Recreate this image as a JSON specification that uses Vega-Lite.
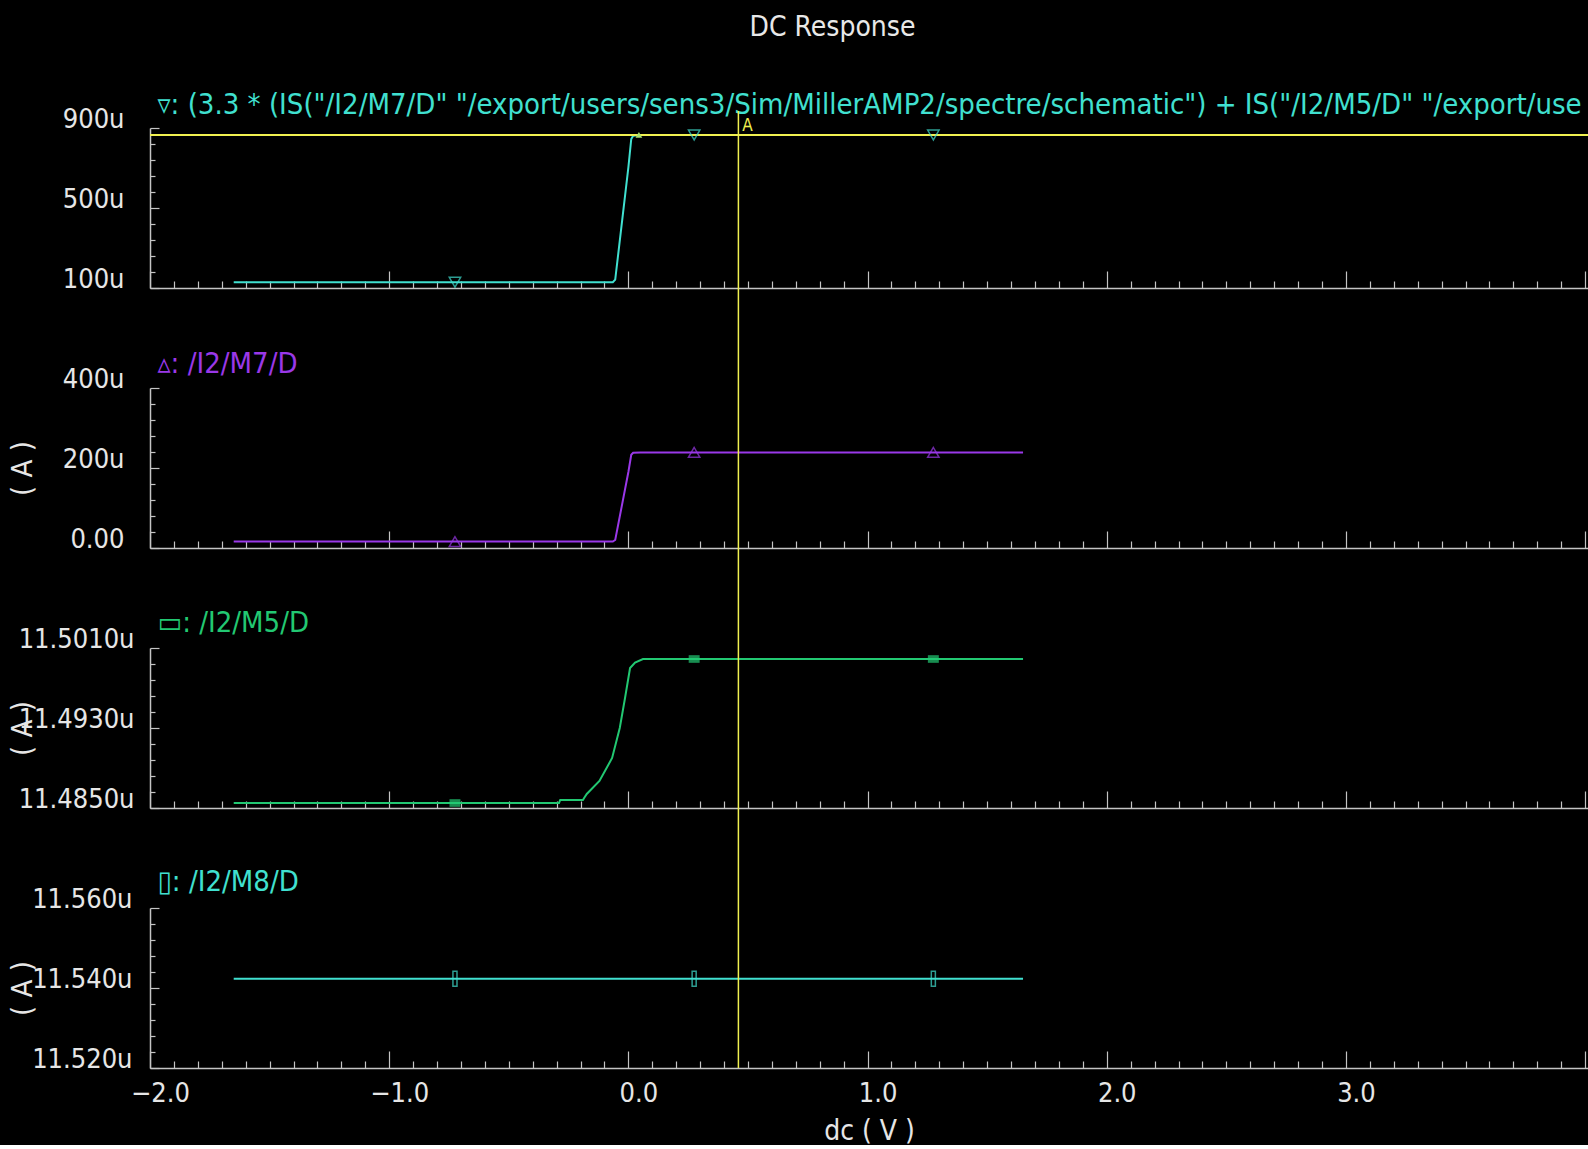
{
  "$schema": "https://vega.github.io/schema/vega-lite/v6.json",
  "background": "black",
  "padding": {"left": 8, "top": 13, "right": 0, "bottom": 0},
  "autosize": {"type": "pad"},
  "spacing": 100,
  "bounds": "flush",
  "config": {
    "view": {"stroke": null, "fill": "black"},
    "font": "DejaVu Sans Condensed, DejaVu Sans, sans-serif",
    "axis": {"grid": false, "domainColor": "#c4c4c4", "domainWidth": 1.5, "tickColor": "#c4c4c4", "tickWidth": 1.2, "labelColor": "#e6e6e6", "titleColor": "#e6e6e6", "labelFont": "DejaVu Sans Condensed, DejaVu Sans, sans-serif", "titleFont": "DejaVu Sans Condensed, DejaVu Sans, sans-serif", "labelFontSize": 27, "titleFontSize": 28, "titleFontWeight": "normal", "labelOverlap": false, "labelFlush": false}
  },
  "datasets": {
    "sum": [
      {"dc": -1.65, "i": 128.8}, {"dc": -0.065, "i": 128.8}, {"dc": -0.055, "i": 142.0}, {"dc": 0.0, "i": 703.0}, {"dc": 0.012, "i": 844.9}, {"dc": 0.02, "i": 861.4}, {"dc": 0.05, "i": 864.7}, {"dc": 1.65, "i": 864.7}
    ],
    "sumMk": [{"dc": -0.725, "i": 128.8}, {"dc": 0.275, "i": 864.7}, {"dc": 1.275, "i": 864.7}],
    "hline": [{"i": 865.5}],
    "yMk": [{"dc": 0.044, "i": 866}],
    "vc1": [{"dc": 0.46, "top": 985, "bot": -400}],
    "aLabel": [{"dc": 0.46, "i": 912, "t": "A"}],
    "m7": [
      {"dc": -1.65, "i": 16}, {"dc": -0.065, "i": 16}, {"dc": -0.055, "i": 20}, {"dc": 0.0, "i": 190}, {"dc": 0.012, "i": 233}, {"dc": 0.02, "i": 238}, {"dc": 0.05, "i": 239}, {"dc": 1.65, "i": 239}
    ],
    "m7Mk": [{"dc": -0.725, "i": 16}, {"dc": 0.275, "i": 239}, {"dc": 1.275, "i": 239}],
    "vc2": [{"dc": 0.46, "top": 400, "bot": -250}],
    "m5": [
      {"dc": -1.65, "i": 11.4855}, {"dc": -0.29, "i": 11.4855}, {"dc": -0.285, "i": 11.4858}, {"dc": -0.19, "i": 11.4858}, {"dc": -0.185, "i": 11.4860}, {"dc": -0.174, "i": 11.4864}, {"dc": -0.121, "i": 11.4877}, {"dc": -0.068, "i": 11.4900}, {"dc": -0.036, "i": 11.4930}, {"dc": -0.014, "i": 11.4960}, {"dc": 0.007, "i": 11.4990}, {"dc": 0.028, "i": 11.49955}, {"dc": 0.061, "i": 11.4999}, {"dc": 1.65, "i": 11.4999}
    ],
    "m5Mk": [{"dc": -0.725, "i": 11.4855}, {"dc": 0.275, "i": 11.4999}, {"dc": 1.275, "i": 11.4999}],
    "vc3": [{"dc": 0.46, "top": 11.501, "bot": 11.475}],
    "m8": [{"dc": -1.65, "i": 11.5423}, {"dc": 1.65, "i": 11.5423}],
    "m8Mk": [{"dc": -0.725, "i": 11.5423}, {"dc": 0.275, "i": 11.5423}, {"dc": 1.275, "i": 11.5423}],
    "vc4": [{"dc": 0.46, "top": 11.56, "bot": 11.52}]
  },
  "vconcat": [
    {
      "width": 1438, "height": 160,
      "resolve": {"axis": {"x": "independent", "y": "independent"}},
      "layer": [
        {"data": {"name": "sum"}, "mark": {"type": "line", "color": "#40e0d0", "strokeWidth": 2},
         "encoding": {
           "x": {"field": "dc", "type": "quantitative", "scale": {"domain": [-2, 4.012], "nice": false, "zero": false},
                 "axis": {"title": null, "labels": false, "values": [-2,-1.9,-1.8,-1.7,-1.6,-1.5,-1.4,-1.3,-1.2,-1.1,-1,-0.9,-0.8,-0.7,-0.6,-0.5,-0.4,-0.3,-0.2,-0.1,0,0.1,0.2,0.3,0.4,0.5,0.6,0.7,0.8,0.9,1,1.1,1.2,1.3,1.4,1.5,1.6,1.7,1.8,1.9,2,2.1,2.2,2.3,2.4,2.5,2.6,2.7,2.8,2.9,3,3.1,3.2,3.3,3.4,3.5,3.6,3.7,3.8,3.9,4],
                          "tickSize": {"condition": {"test": "abs(datum.value-round(datum.value))<0.001", "value": -17}, "value": -7}}},
           "y": {"field": "i", "type": "quantitative", "scale": {"domain": [100, 900], "nice": false, "zero": false},
                 "axis": {"title": null, "values": [100,180,260,340,420,500,580,660,740,820,900], "labelOverlap": false,
                          "tickSize": {"condition": {"test": "datum.value==100||datum.value==500||datum.value==900", "value": -9}, "value": -5},
                          "labelExpr": "(datum.value==100||datum.value==500||datum.value==900) ? datum.value+'u' : ''",
                          "labelBaseline": "alphabetic", "labelPadding": 35, "labelOffset": -1}}
         }},
        {"data": {"name": "hline"}, "mark": {"type": "rule", "color": "#f0f050", "strokeWidth": 2},
         "encoding": {"y": {"field": "i", "type": "quantitative", "scale": {"domain": [100, 900], "nice": false, "zero": false},
                            "axis": {"orient": "right", "domain": false, "ticks": false, "labels": false, "title": "DC Response", "titleX": -756, "titleY": -101, "titleAngle": 0, "titleAlign": "center", "titleBaseline": "middle", "titleColor": "#e8e8e8", "titleFontSize": 28}}}},
        {"data": {"name": "sumMk"}, "mark": {"type": "point", "shape": "triangle-down", "filled": false, "size": 130, "color": "#40e0d0", "strokeWidth": 1.5},
         "encoding": {"x": {"field": "dc", "type": "quantitative", "scale": {"domain": [-2, 4.012], "nice": false, "zero": false},
                            "axis": {"orient": "top", "domain": false, "ticks": false, "labels": false, "title": "▿:  (3.3 * (IS(\"/I2/M7/D\" \"/export/users/sens3/Sim/MillerAMP2/spectre/schematic\") + IS(\"/I2/M5/D\" \"/export/use", "titleX": 7, "titleY": -24, "titleAngle": 0, "titleAlign": "left", "titleBaseline": "middle", "titleColor": "#40e0d0", "titleFontSize": 29}},
                      "y": {"field": "i", "type": "quantitative", "scale": {"domain": [100, 900], "nice": false, "zero": false}, "axis": null}}},
        {"data": {"name": "yMk"}, "mark": {"type": "point", "shape": "triangle-up", "filled": true, "size": 45, "color": "#a8e070", "opacity": 1},
         "encoding": {"x": {"field": "dc", "type": "quantitative", "scale": {"domain": [-2, 4.012], "nice": false, "zero": false}, "axis": null}, "y": {"field": "i", "type": "quantitative", "scale": {"domain": [100, 900], "nice": false, "zero": false}, "axis": null}}},
        {"data": {"name": "vc1"}, "mark": {"type": "rule", "color": "#f0f050", "strokeWidth": 1.5},
         "encoding": {"x": {"field": "dc", "type": "quantitative", "scale": {"domain": [-2, 4.012], "nice": false, "zero": false}, "axis": null}, "y": {"field": "top", "type": "quantitative", "scale": {"domain": [100, 900], "nice": false, "zero": false}, "axis": null}, "y2": {"field": "bot"}}},
        {"data": {"name": "aLabel"}, "mark": {"type": "text", "color": "#f0f050", "fontSize": 17, "dx": 9, "font": "DejaVu Sans Condensed, DejaVu Sans, sans-serif"},
         "encoding": {"x": {"field": "dc", "type": "quantitative", "scale": {"domain": [-2, 4.012], "nice": false, "zero": false}, "axis": null}, "y": {"field": "i", "type": "quantitative", "scale": {"domain": [100, 900], "nice": false, "zero": false}, "axis": null}, "text": {"field": "t"}}}
      ]
    },
    {
      "width": 1438, "height": 160,
      "resolve": {"axis": {"x": "independent", "y": "independent"}},
      "layer": [
        {"data": {"name": "m7"}, "mark": {"type": "line", "color": "#9a38e8", "strokeWidth": 2},
         "encoding": {
           "x": {"field": "dc", "type": "quantitative", "scale": {"domain": [-2, 4.012], "nice": false, "zero": false},
                 "axis": {"title": null, "labels": false, "values": [-2,-1.9,-1.8,-1.7,-1.6,-1.5,-1.4,-1.3,-1.2,-1.1,-1,-0.9,-0.8,-0.7,-0.6,-0.5,-0.4,-0.3,-0.2,-0.1,0,0.1,0.2,0.3,0.4,0.5,0.6,0.7,0.8,0.9,1,1.1,1.2,1.3,1.4,1.5,1.6,1.7,1.8,1.9,2,2.1,2.2,2.3,2.4,2.5,2.6,2.7,2.8,2.9,3,3.1,3.2,3.3,3.4,3.5,3.6,3.7,3.8,3.9,4],
                          "tickSize": {"condition": {"test": "abs(datum.value-round(datum.value))<0.001", "value": -17}, "value": -7}}},
           "y": {"field": "i", "type": "quantitative", "scale": {"domain": [0, 400], "nice": false, "zero": false},
                 "axis": {"title": "( A )", "titleX": -128, "titleY": 80, "titleAngle": -90, "titleBaseline": "middle", "titleAlign": "center", "titleFontSize": 29,
                          "values": [0,40,80,120,160,200,240,280,320,360,400], "labelOverlap": false,
                          "tickSize": {"condition": {"test": "datum.value==0||datum.value==200||datum.value==400", "value": -9}, "value": -5},
                          "labelExpr": "datum.value==0 ? '0.00' : ((datum.value==200||datum.value==400) ? datum.value+'u' : '')",
                          "labelBaseline": "alphabetic", "labelPadding": 35, "labelOffset": -1}}
         }},
        {"data": {"name": "m7Mk"}, "mark": {"type": "point", "shape": "triangle-up", "filled": false, "size": 130, "color": "#9a38e8", "strokeWidth": 1.5},
         "encoding": {"x": {"field": "dc", "type": "quantitative", "scale": {"domain": [-2, 4.012], "nice": false, "zero": false},
                            "axis": {"orient": "top", "domain": false, "ticks": false, "labels": false, "title": "▵:  /I2/M7/D", "titleX": 7, "titleY": -25, "titleAngle": 0, "titleAlign": "left", "titleBaseline": "middle", "titleColor": "#9a38e8", "titleFontSize": 29}},
                      "y": {"field": "i", "type": "quantitative", "scale": {"domain": [0, 400], "nice": false, "zero": false}, "axis": null}}},
        {"data": {"name": "vc2"}, "mark": {"type": "rule", "color": "#f0f050", "strokeWidth": 1.5},
         "encoding": {"x": {"field": "dc", "type": "quantitative", "scale": {"domain": [-2, 4.012], "nice": false, "zero": false}, "axis": null}, "y": {"field": "top", "type": "quantitative", "scale": {"domain": [0, 400], "nice": false, "zero": false}, "axis": null}, "y2": {"field": "bot"}}}
      ]
    },
    {
      "width": 1438, "height": 160,
      "resolve": {"axis": {"x": "independent", "y": "independent"}},
      "layer": [
        {"data": {"name": "m5"}, "mark": {"type": "line", "color": "#22c872", "strokeWidth": 2},
         "encoding": {
           "x": {"field": "dc", "type": "quantitative", "scale": {"domain": [-2, 4.012], "nice": false, "zero": false},
                 "axis": {"title": null, "labels": false, "values": [-2,-1.9,-1.8,-1.7,-1.6,-1.5,-1.4,-1.3,-1.2,-1.1,-1,-0.9,-0.8,-0.7,-0.6,-0.5,-0.4,-0.3,-0.2,-0.1,0,0.1,0.2,0.3,0.4,0.5,0.6,0.7,0.8,0.9,1,1.1,1.2,1.3,1.4,1.5,1.6,1.7,1.8,1.9,2,2.1,2.2,2.3,2.4,2.5,2.6,2.7,2.8,2.9,3,3.1,3.2,3.3,3.4,3.5,3.6,3.7,3.8,3.9,4],
                          "tickSize": {"condition": {"test": "abs(datum.value-round(datum.value))<0.001", "value": -17}, "value": -7}}},
           "y": {"field": "i", "type": "quantitative", "scale": {"domain": [11.485, 11.501], "nice": false, "zero": false},
                 "axis": {"title": "( A )", "titleX": -128, "titleY": 80, "titleAngle": -90, "titleBaseline": "middle", "titleAlign": "center", "titleFontSize": 29,
                          "values": [11.485,11.4866,11.4882,11.4898,11.4914,11.493,11.4946,11.4962,11.4978,11.4994,11.501], "labelOverlap": false,
                          "tickSize": {"condition": {"test": "abs(datum.value-11.485)<1e-6||abs(datum.value-11.493)<1e-6||abs(datum.value-11.501)<1e-6", "value": -9}, "value": -5},
                          "labelExpr": "(abs(datum.value-11.485)<1e-6||abs(datum.value-11.493)<1e-6||abs(datum.value-11.501)<1e-6) ? format(datum.value,'.4f')+'u' : ''",
                          "labelBaseline": "alphabetic", "labelPadding": 25, "labelOffset": -1}}
         }},
        {"data": {"name": "m5Mk"}, "mark": {"type": "point", "shape": "M-1,-0.7L1,-0.7L1,0.7L-1,0.7Z", "filled": true, "size": 120, "color": "#22c872"},
         "encoding": {"x": {"field": "dc", "type": "quantitative", "scale": {"domain": [-2, 4.012], "nice": false, "zero": false},
                            "axis": {"orient": "top", "domain": false, "ticks": false, "labels": false, "title": "▭:  /I2/M5/D", "titleX": 7, "titleY": -26, "titleAngle": 0, "titleAlign": "left", "titleBaseline": "middle", "titleColor": "#22c872", "titleFontSize": 29}},
                      "y": {"field": "i", "type": "quantitative", "scale": {"domain": [11.485, 11.501], "nice": false, "zero": false}, "axis": null}}},
        {"data": {"name": "vc3"}, "mark": {"type": "rule", "color": "#f0f050", "strokeWidth": 1.5},
         "encoding": {"x": {"field": "dc", "type": "quantitative", "scale": {"domain": [-2, 4.012], "nice": false, "zero": false}, "axis": null}, "y": {"field": "top", "type": "quantitative", "scale": {"domain": [11.485, 11.501], "nice": false, "zero": false}, "axis": null}, "y2": {"field": "bot"}}}
      ]
    },
    {
      "width": 1438, "height": 160,
      "resolve": {"axis": {"x": "independent", "y": "independent"}},
      "layer": [
        {"data": {"name": "m8"}, "mark": {"type": "line", "color": "#40e0d0", "strokeWidth": 2},
         "encoding": {
           "x": {"field": "dc", "type": "quantitative", "scale": {"domain": [-2, 4.012], "nice": false, "zero": false},
                 "axis": {"title": "dc ( V )", "titleX": 719, "titleY": 63, "titleBaseline": "middle", "titleAlign": "center", "titleFontSize": 28,
                          "values": [-2,-1.9,-1.8,-1.7,-1.6,-1.5,-1.4,-1.3,-1.2,-1.1,-1,-0.9,-0.8,-0.7,-0.6,-0.5,-0.4,-0.3,-0.2,-0.1,0,0.1,0.2,0.3,0.4,0.5,0.6,0.7,0.8,0.9,1,1.1,1.2,1.3,1.4,1.5,1.6,1.7,1.8,1.9,2,2.1,2.2,2.3,2.4,2.5,2.6,2.7,2.8,2.9,3,3.1,3.2,3.3,3.4,3.5,3.6,3.7,3.8,3.9,4], "labelOverlap": false,
                          "tickSize": {"condition": {"test": "abs(datum.value-round(datum.value))<0.001", "value": -17}, "value": -7},
                          "labelExpr": "(abs(datum.value-round(datum.value))<0.001 && datum.value<3.5) ? format(datum.value,'.1f') : ''",
                          "labelOffset": 10, "labelPadding": 29}},
           "y": {"field": "i", "type": "quantitative", "scale": {"domain": [11.52, 11.56], "nice": false, "zero": false},
                 "axis": {"title": "( A )", "titleX": -128, "titleY": 80, "titleAngle": -90, "titleBaseline": "middle", "titleAlign": "center", "titleFontSize": 29,
                          "values": [11.52,11.524,11.528,11.532,11.536,11.54,11.544,11.548,11.552,11.556,11.56], "labelOverlap": false,
                          "tickSize": {"condition": {"test": "abs(datum.value-11.52)<1e-6||abs(datum.value-11.54)<1e-6||abs(datum.value-11.56)<1e-6", "value": -9}, "value": -5},
                          "labelExpr": "(abs(datum.value-11.52)<1e-6||abs(datum.value-11.54)<1e-6||abs(datum.value-11.56)<1e-6) ? format(datum.value,'.3f')+'u' : ''",
                          "labelBaseline": "alphabetic", "labelPadding": 27, "labelOffset": -1}}
         }},
        {"data": {"name": "m8Mk"}, "mark": {"type": "point", "shape": "M-0.27,-1L0.27,-1L0.27,1L-0.27,1Z", "filled": false, "size": 225, "color": "#40e0d0", "strokeWidth": 1.5},
         "encoding": {"x": {"field": "dc", "type": "quantitative", "scale": {"domain": [-2, 4.012], "nice": false, "zero": false},
                            "axis": {"orient": "top", "domain": false, "ticks": false, "labels": false, "title": "▯:  /I2/M8/D", "titleX": 7, "titleY": -27, "titleAngle": 0, "titleAlign": "left", "titleBaseline": "middle", "titleColor": "#40e0d0", "titleFontSize": 29}},
                      "y": {"field": "i", "type": "quantitative", "scale": {"domain": [11.52, 11.56], "nice": false, "zero": false}, "axis": null}}},
        {"data": {"name": "vc4"}, "mark": {"type": "rule", "color": "#f0f050", "strokeWidth": 1.5},
         "encoding": {"x": {"field": "dc", "type": "quantitative", "scale": {"domain": [-2, 4.012], "nice": false, "zero": false}, "axis": null}, "y": {"field": "top", "type": "quantitative", "scale": {"domain": [11.52, 11.56], "nice": false, "zero": false}, "axis": null}, "y2": {"field": "bot"}}}
      ]
    }
  ]
}
